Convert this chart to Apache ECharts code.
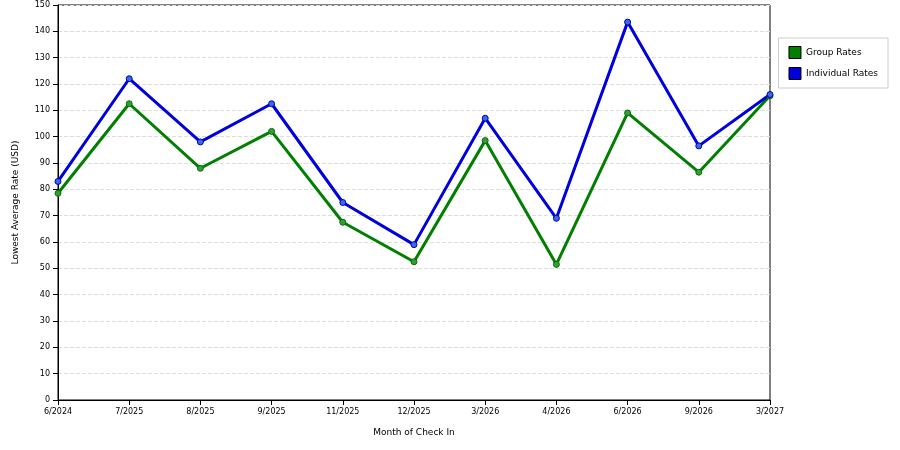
<!DOCTYPE html><html><head><meta charset="utf-8"><script src="https://cdn.jsdelivr.net/npm/echarts@6/dist/echarts.min.js"></script></head><body style="margin:0"><div id="c" style="width:900px;height:450px"></div><script>
const categories=["6/2024","7/2025","8/2025","9/2025","11/2025","12/2025","3/2026","4/2026","6/2026","9/2026","3/2027"];
const groupRates=[78.5,112.5,88,102,67.5,52.5,98.5,51.5,109,86.5,115.5];
const individualRates=[83,122,98,112.5,75,59,107,69,143.5,96.5,116];
const c=echarts.init(document.getElementById('c'));
const F='DejaVu Sans';
c.setOption({animation:false,textStyle:{fontFamily:F},
grid:{left:58,right:130,top:5,bottom:50,show:true,borderColor:'#000',borderWidth:1,backgroundColor:'transparent'},
legend:{orient:'vertical',right:12,top:38,itemWidth:12,itemHeight:12,icon:'rect',itemGap:8,padding:[8,10,8,10],borderColor:'#ccc',borderWidth:1,textStyle:{fontSize:9,fontFamily:F,color:'#000'},
data:[{name:'Group Rates',itemStyle:{color:'#007f00',borderColor:'#000',borderWidth:1}},{name:'Individual Rates',itemStyle:{color:'#0000dd',borderColor:'#000',borderWidth:1}}]},
xAxis:{type:'category',data:categories,boundaryGap:false,name:'Month of Check In',nameLocation:'middle',nameGap:28,nameTextStyle:{fontSize:9,color:'#000'},axisLine:{lineStyle:{color:'#000'}},axisTick:{lineStyle:{color:'#000'}},axisLabel:{fontSize:8,color:'#000'}},
yAxis:{type:'value',min:0,max:150,interval:10,name:'Lowest Average Rate (USD)',nameLocation:'middle',nameGap:38,nameTextStyle:{fontSize:9,color:'#000'},axisLine:{show:true,lineStyle:{color:'#000'}},axisTick:{show:true,lineStyle:{color:'#000'}},axisLabel:{fontSize:8,color:'#000'},splitLine:{lineStyle:{color:'#ddd',type:'dashed'}}},
series:[{name:'Group Rates',type:'line',data:groupRates,lineStyle:{width:3,color:'#007f00'},symbol:'circle',symbolSize:6,itemStyle:{color:'#3a9a3a',borderColor:'#007000',borderWidth:1}},
{name:'Individual Rates',type:'line',data:individualRates,lineStyle:{width:3,color:'#0000dd'},symbol:'circle',symbolSize:6,itemStyle:{color:'#3a6ae0',borderColor:'#0000bb',borderWidth:1}}]});
</script></body></html>
